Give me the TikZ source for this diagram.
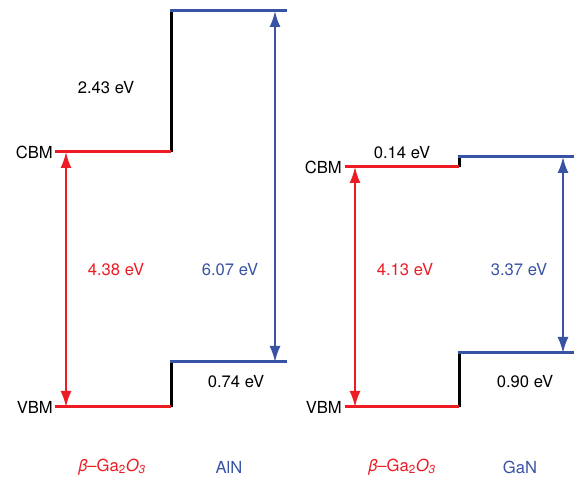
\documentclass[tikz,border=0pt]{standalone}
\usepackage{fontspec}
\setmainfont{TeX Gyre Heros}
\usetikzlibrary{arrows.meta}
\definecolor{bred}{RGB}{237,28,36}
\definecolor{bblue}{RGB}{57,83,164}
\begin{document}
\begin{tikzpicture}[x=1pt,y=-1pt,
  level/.style={line width=3pt},
  gapline/.style={line width=3pt,black},
  gaparrow/.style={line width=1.8pt,{Latex[length=16pt,width=11pt]}-{Latex[length=16pt,width=11pt]}},
  lbl/.style={font=\fontsize{16.6}{19}\selectfont,inner sep=0pt}]
\useasboundingbox (0,0) rectangle (574,481);
% ---------- left: beta-Ga2O3 / AlN ----------
\coordinate (LcbmL) at (55,152);
\coordinate (LcbmR) at (171,152);
\coordinate (LvbmL) at (55,407);
\coordinate (LvbmR) at (171,407);
\coordinate (AcbL) at (171,11);
\coordinate (AcbR) at (287,11);
\coordinate (AvbL) at (171,362);
\coordinate (AvbR) at (287,362);
\coordinate (LgA) at (66,152);
\coordinate (LgB) at (66,407);
\coordinate (AgA) at (275,11);
\coordinate (AgB) at (275,362);
\draw[gapline] (LcbmR) -- (AcbL);
\draw[gapline] (LvbmR) -- (AvbL);
\draw[level,bred] (LcbmL) -- (LcbmR);
\draw[level,bred] (LvbmL) -- (LvbmR);
\draw[level,bblue] ([xshift=-1.5pt]AcbL) -- (AcbR);
\draw[level,bblue] ([xshift=-1.5pt]AvbL) -- (AvbR);
\draw[gaparrow,bred] (LgA) -- (LgB);
\draw[gaparrow,bblue] (AgA) -- (AgB);
\node[lbl,anchor=east] (cbm1) at (53,152) {CBM};
\node[lbl,anchor=east] (vbm1) at (53,407) {VBM};
\node[lbl] (d1) at (106,88) {2.43 eV};
\node[lbl,bred] (g1) at (116,270) {4.38 eV};
\node[lbl,bblue] (g2) at (230,270) {6.07 eV};
\node[lbl] (d2) at (236,382) {0.74 eV};
\node[lbl,bred] (m1) at (112,467) {\textit{β}–Ga\textsubscript{2}\textit{O}\textsubscript{\textit{3}}};
\node[lbl,bblue] (m2) at (229,467) {AlN};
% ---------- right: beta-Ga2O3 / GaN ----------
\coordinate (RcbmL) at (345,167);
\coordinate (RcbmR) at (459,167);
\coordinate (RvbmL) at (345,407);
\coordinate (RvbmR) at (459,407);
\coordinate (GcbL) at (459,157);
\coordinate (GcbR) at (574,157);
\coordinate (GvbL) at (459,353);
\coordinate (GvbR) at (574,353);
\coordinate (RgA) at (355,167);
\coordinate (RgB) at (355,407);
\coordinate (GgA) at (563,157);
\coordinate (GgB) at (563,353);
\draw[gapline] (RcbmR) -- (GcbL);
\draw[gapline] (RvbmR) -- (GvbL);
\draw[level,bred] (RcbmL) -- (RcbmR);
\draw[level,bred] (RvbmL) -- (RvbmR);
\draw[level,bblue] ([xshift=-1.5pt]GcbL) -- (GcbR);
\draw[level,bblue] ([xshift=-1.5pt]GvbL) -- (GvbR);
\draw[gaparrow,bred] (RgA) -- (RgB);
\draw[gaparrow,bblue] (GgA) -- (GgB);
\node[lbl,anchor=east] (cbm2) at (342,167) {CBM};
\node[lbl,anchor=east] (vbm2) at (342,407) {VBM};
\node[lbl] (d3) at (402,153) {0.14 eV};
\node[lbl,bred] (g3) at (405,270) {4.13 eV};
\node[lbl,bblue] (g4) at (519,270) {3.37 eV};
\node[lbl] (d4) at (525,382) {0.90 eV};
\node[lbl,bred] (m3) at (402,467) {\textit{β}–Ga\textsubscript{2}\textit{O}\textsubscript{\textit{3}}};
\node[lbl,bblue] (m4) at (520,467) {GaN};
\end{tikzpicture}
\end{document}
